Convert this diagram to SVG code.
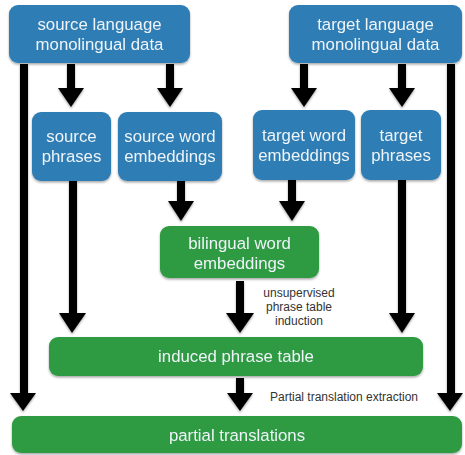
<svg xmlns="http://www.w3.org/2000/svg" width="465" height="455" viewBox="0 0 465 455">
<style>
.blue{fill:#2f7db5}
.green{fill:#2f9a43}
.t{font-family:"Liberation Sans",Arial,sans-serif;font-size:16.8px;fill:#eef4f8;text-anchor:middle}
.lab{font-family:"Liberation Sans",Arial,sans-serif;font-size:12px;fill:#333;text-anchor:middle}
.sh{stroke:#000;stroke-width:8;fill:none}
</style>
<defs>
<filter id="ds" x="-10%" y="-10%" width="120%" height="130%">
<feDropShadow dx="0" dy="1.5" stdDeviation="1.2" flood-color="#000" flood-opacity="0.35"/>
</filter>
</defs>
<rect width="465" height="455" fill="#fff"/>
<g id="connectors" filter="url(#ds)">
<path class="sh" d="M24 64V395"/><polygon points="10,393 36,393 23,411"/>
<path class="sh" d="M71 64V90"/><polygon points="58,88 84,88 71,107"/>
<path class="sh" d="M170 64V90"/><polygon points="157,88 183,88 170,107"/>
<path class="sh" d="M304 64V90"/><polygon points="291,88 317,88 304,107"/>
<path class="sh" d="M402 64V90"/><polygon points="389,88 415,88 402,107"/>
<path class="sh" d="M451 64V395"/><polygon points="437,393 463,393 450,411"/>
<path class="sh" d="M73 181V315"/><polygon points="59,313 86,313 72,333"/>
<path class="sh" d="M181 181V203"/><polygon points="168,201 194,201 181,221"/>
<path class="sh" d="M292 180V203"/><polygon points="279,201 305,201 292,221"/>
<path class="sh" d="M402 180V315"/><polygon points="389,313 415,313 402,333"/>
<path class="sh" d="M240 281V315"/><polygon points="226,313 254,313 240,333"/>
<path class="sh" d="M240 378V395"/><polygon points="227,393 253,393 240,411"/>
</g>
<g id="n-src" filter="url(#ds)"><rect class="blue" x="9" y="5" width="181" height="58" rx="9"/><text class="t" x="99.5" y="30">source language</text><text class="t" x="99.5" y="50">monolingual data</text></g>
<g id="n-tgt" filter="url(#ds)"><rect class="blue" x="289" y="5" width="173" height="58" rx="9"/><text class="t" x="375.5" y="30">target language</text><text class="t" x="375.5" y="50">monolingual data</text></g>
<g id="n-srcph" filter="url(#ds)"><rect class="blue" x="32" y="112" width="79" height="69" rx="9"/><text class="t" x="71.5" y="142">source</text><text class="t" x="71.5" y="162">phrases</text></g>
<g id="n-srcwe" filter="url(#ds)"><rect class="blue" x="118" y="112" width="104" height="69" rx="9"/><text class="t" x="170" y="142">source word</text><text class="t" x="170" y="162">embeddings</text></g>
<g id="n-tgtwe" filter="url(#ds)"><rect class="blue" x="253" y="110" width="102" height="70" rx="9"/><text class="t" x="304" y="141">target word</text><text class="t" x="304" y="161">embeddings</text></g>
<g id="n-tgtph" filter="url(#ds)"><rect class="blue" x="361" y="110" width="80" height="70" rx="9"/><text class="t" x="401" y="141">target</text><text class="t" x="401" y="161">phrases</text></g>
<g id="n-bi" filter="url(#ds)"><rect class="green" x="160" y="226" width="159" height="52" rx="9"/><text class="t" x="239.5" y="249">bilingual word</text><text class="t" x="239.5" y="269">embeddings</text></g>
<g id="n-ipt" filter="url(#ds)"><rect class="green" x="49" y="337" width="374" height="39" rx="9"/><text class="t" x="236" y="362">induced phrase table</text></g>
<g id="n-pt" filter="url(#ds)"><rect class="green" x="12" y="416" width="450" height="37" rx="9"/><text class="t" x="237" y="441">partial translations</text></g>
<g id="labels">
<text class="lab" x="299" y="297">unsupervised</text>
<text class="lab" x="299" y="311">phrase table</text>
<text class="lab" x="299" y="325">induction</text>
<text class="lab" x="344" y="401">Partial translation extraction</text>
</g>
</svg>
